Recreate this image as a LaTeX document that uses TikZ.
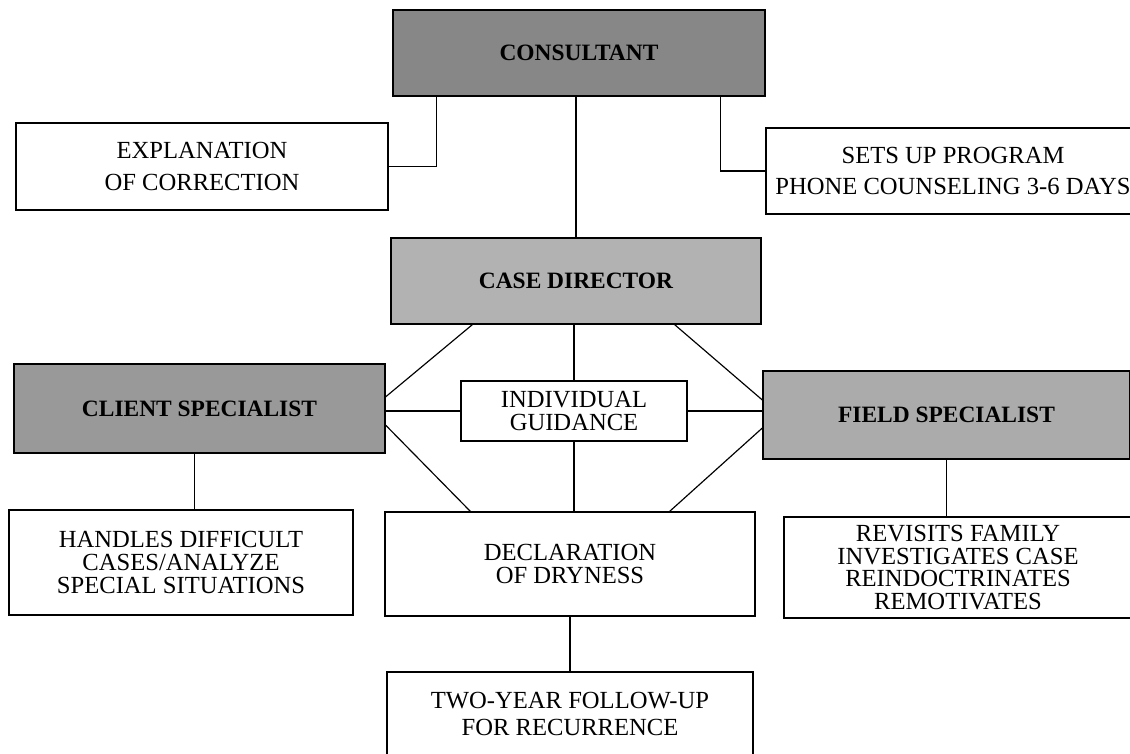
\documentclass[tikz,border=0pt]{standalone}
\usepackage{fontspec}
\setmainfont{Liberation Serif}
\usepackage{tikz}
\tikzstyle{plainBox} = [shape=rectangle, draw=black, line width=1.1pt,
	align=center, fill=white, inner sep=0pt, text=black,
	font=\fontsize{21}{19.5}\selectfont]
\tikzstyle{wideBox} = [plainBox, font=\fontsize{21}{27}\selectfont]
\tikzstyle{roleBox} = [plainBox, fill=black!40,
	font=\bfseries\fontsize{20}{20}\selectfont]
\begin{document}
\begin{tikzpicture}[x=0.03cm, y=-0.03cm, line width=1pt]
  \useasboundingbox (0,0) rectangle (1130,753);
  % people
  \node[roleBox, fill=black!47, minimum width=11.16cm, minimum height=2.58cm]
    (consultant) at (579,53) {CONSULTANT};
  \node[roleBox, fill=black!30, minimum width=11.1cm, minimum height=2.58cm]
    (caseDirector) at (576,281) {CASE DIRECTOR};
  \node[roleBox, fill=black!40, minimum width=11.13cm, minimum height=2.67cm]
    (clientSpec) at (199.5,408.5) {CLIENT SPECIALIST};
  \node[roleBox, fill=black!33, minimum width=11.01cm, minimum height=2.64cm]
    (fieldSpec) at (946.5,415) {FIELD SPECIALIST};
  % tasks
  \node[wideBox, minimum width=11.16cm, minimum height=2.61cm]
    (explanation) at (202,166.5) {EXPLANATION\\OF CORRECTION};
  \node[wideBox, minimum width=11.22cm, minimum height=2.58cm]
    (setsUp) at (953,171) {SETS UP PROGRAM\\PHONE COUNSELING 3-6 DAYS};
  \node[plainBox, minimum width=6.78cm, minimum height=1.8cm]
    (guidance) at (574,411) {INDIVIDUAL\\GUIDANCE};
  \node[plainBox, minimum width=10.32cm, minimum height=3.15cm]
    (handles) at (181,562.5) {HANDLES DIFFICULT\\CASES/ANALYZE\\SPECIAL SITUATIONS};
  \node[plainBox, minimum width=11.1cm, minimum height=3.12cm]
    (declaration) at (570,564) {DECLARATION\\OF DRYNESS};
  \node[plainBox, minimum width=10.44cm, minimum height=3.03cm]
    (revisits) at (958,567.5) {REVISITS FAMILY\\INVESTIGATES CASE\\REINDOCTRINATES\\REMOTIVATES};
  \node[plainBox, font=\fontsize{21}{23}\selectfont, minimum width=10.98cm, minimum height=2.52cm]
    (twoYear) at (570,714) {TWO-YEAR FOLLOW-UP\\FOR RECURRENCE};
  % links
  \draw ([xshift=1.32cm]consultant.south west) |- (explanation.east);
  \draw ([xshift=-1.35cm]consultant.south east) |- (setsUp.west);
  \draw (caseDirector.north) -- (caseDirector.north |- consultant.south);
  \draw ([xshift=2.46cm]caseDirector.south west) -- ([yshift=0.35cm]clientSpec.east);
  \draw ([xshift=-2.61cm]caseDirector.south east) -- ([yshift=0.45cm]fieldSpec.west);
  \draw (guidance.north) -- (guidance.north |- caseDirector.south);
  \draw (guidance.west) -- (guidance.west -| clientSpec.east);
  \draw (guidance.east) -- (guidance.east -| fieldSpec.west);
  \draw ([yshift=-0.5cm]clientSpec.east) -- ([xshift=2.58cm]declaration.north west);
  \draw ([yshift=-0.39cm]fieldSpec.west) -- ([xshift=-2.58cm]declaration.north east);
  \draw (guidance.south) -- (guidance.south |- declaration.north);
  \draw (declaration.south) -- (twoYear.north);
  \draw ([xshift=-0.15cm]clientSpec.south) -- ([xshift=-0.15cm]clientSpec.south |- handles.north);
  \draw (fieldSpec.south) -- (fieldSpec.south |- revisits.north);
\end{tikzpicture}
\end{document}
